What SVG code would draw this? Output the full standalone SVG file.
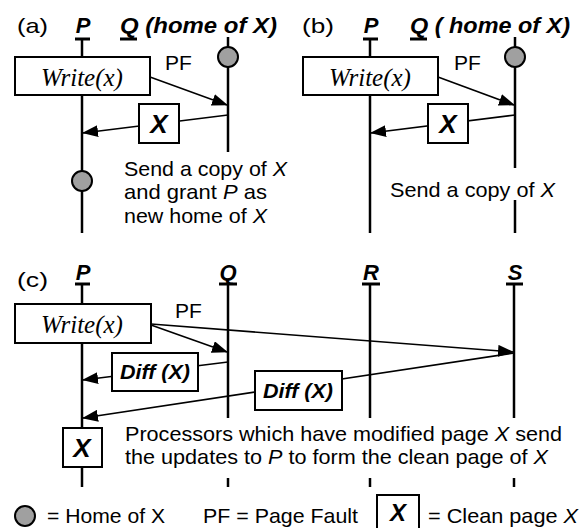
<svg xmlns="http://www.w3.org/2000/svg" width="587" height="528" viewBox="0 0 587 528">
<style>
.t{font-family:"Liberation Sans",Arial,sans-serif;font-size:21px;fill:#000}
.bi{font-family:"Liberation Sans",Arial,sans-serif;font-weight:bold;font-style:italic;fill:#000}
.w{font-family:"Liberation Serif","Times New Roman",serif;font-style:italic;font-size:25px;fill:#000}
.it{font-style:italic}
.life{stroke:#000;stroke-width:2.5;fill:none}
.ul{stroke:#000;stroke-width:3}
.box{fill:#fff;stroke:#000;stroke-width:2}
.msg{stroke:#000;stroke-width:1.6;fill:none}
.home{fill:#a0a0a0;stroke:#000;stroke-width:2}
</style>
<defs>
<marker id="ah" markerUnits="userSpaceOnUse" markerWidth="16" markerHeight="12" refX="15" refY="6" orient="auto">
<path d="M0,0 L16,6 L0,12 z" fill="#000"/>
</marker>
</defs>

<!-- Panel (a) -->
<text class="t" x="17" y="33" font-size="25" textLength="31" lengthAdjust="spacingAndGlyphs">(a)</text>
<g id="a-P">
<text class="bi" x="83" y="33" font-size="22" text-anchor="middle">P</text>
<line class="ul" x1="75" y1="39" x2="90" y2="39"/>
<line class="life" x1="82" y1="39" x2="82" y2="233"/>
<circle class="home" cx="82" cy="181" r="10"/>
</g>
<g id="a-Q">
<text class="bi" x="120" y="33" font-size="22" textLength="157" lengthAdjust="spacingAndGlyphs">Q (home of X)</text>
<line class="ul" x1="120" y1="39" x2="137" y2="39"/>
<line class="life" x1="228" y1="37" x2="228" y2="152"/>
<circle class="home" cx="228" cy="57" r="10"/>
</g>

<!-- Panel (b) -->
<text class="t" x="302" y="33" font-size="25" textLength="32" lengthAdjust="spacingAndGlyphs">(b)</text>
<g id="b-P">
<text class="bi" x="371" y="33" font-size="22" text-anchor="middle">P</text>
<line class="ul" x1="363" y1="39" x2="378" y2="39"/>
<line class="life" x1="370" y1="39" x2="370" y2="233"/>
</g>
<g id="b-Q">
<text class="bi" x="410" y="33" font-size="22" textLength="160" lengthAdjust="spacingAndGlyphs">Q ( home of X)</text>
<line class="ul" x1="410" y1="39" x2="427" y2="39"/>
<line class="life" x1="515" y1="37" x2="515" y2="168"/>
<line class="life" x1="515" y1="200" x2="515" y2="233"/>
<circle class="home" cx="515" cy="57" r="10"/>
</g>

<!-- Panel (c) -->
<text class="t" x="17" y="287" font-size="25" textLength="31" lengthAdjust="spacingAndGlyphs">(c)</text>
<g id="c-P">
<text class="bi" x="83" y="280" font-size="22" text-anchor="middle">P</text>
<line class="ul" x1="75" y1="284" x2="90" y2="284"/>
<line class="life" x1="82" y1="284" x2="82" y2="428"/>
<line class="life" x1="82" y1="467" x2="82" y2="487"/>
</g>
<g id="c-Q">
<text class="bi" x="228" y="280" font-size="22" text-anchor="middle">Q</text>
<line class="ul" x1="219" y1="284" x2="237" y2="284"/>
<line class="life" x1="228" y1="284" x2="228" y2="418"/>
<line class="life" x1="228" y1="478" x2="228" y2="487"/>
</g>
<g id="c-R">
<text class="bi" x="371" y="280" font-size="22" text-anchor="middle">R</text>
<line class="ul" x1="362" y1="284" x2="380" y2="284"/>
<line class="life" x1="370" y1="284" x2="370" y2="418"/>
<line class="life" x1="370" y1="478" x2="370" y2="487"/>
</g>
<g id="c-S">
<text class="bi" x="515" y="280" font-size="22" text-anchor="middle">S</text>
<line class="ul" x1="506" y1="284" x2="523" y2="284"/>
<line class="life" x1="514" y1="284" x2="514" y2="418"/>
<line class="life" x1="514" y1="478" x2="514" y2="487"/>
</g>

<!-- Connectors -->
<g id="connectors">
<line class="msg" x1="150" y1="77" x2="227" y2="105" marker-end="url(#ah)"/>
<line class="msg" x1="228" y1="115" x2="83" y2="133" marker-end="url(#ah)"/>
<line class="msg" x1="438" y1="77" x2="514" y2="105" marker-end="url(#ah)"/>
<line class="msg" x1="515" y1="115" x2="371" y2="133" marker-end="url(#ah)"/>
<line class="msg" x1="151" y1="325" x2="227" y2="352" marker-end="url(#ah)"/>
<line class="msg" x1="151" y1="324" x2="513" y2="352" marker-end="url(#ah)"/>
<line class="msg" x1="228" y1="362" x2="83" y2="380" marker-end="url(#ah)"/>
<line class="msg" x1="514" y1="353" x2="83" y2="418" marker-end="url(#ah)"/>
</g>

<!-- Nodes -->
<g id="a-write">
<rect class="box" x="15" y="57" width="135" height="38"/>
<text class="w" x="82" y="86" text-anchor="middle">Write(x)</text>
</g>
<g id="a-X">
<rect class="box" x="139" y="104" width="40" height="39"/>
<text class="bi" x="159" y="133" font-size="26" text-anchor="middle">X</text>
</g>
<g id="b-write">
<rect class="box" x="303" y="57" width="135" height="38"/>
<text class="w" x="370" y="86" text-anchor="middle">Write(x)</text>
</g>
<g id="b-X">
<rect class="box" x="428" y="104" width="40" height="39"/>
<text class="bi" x="448" y="133" font-size="26" text-anchor="middle">X</text>
</g>
<g id="c-write">
<rect class="box" x="15" y="304" width="136" height="39"/>
<text class="w" x="82" y="333" text-anchor="middle">Write(x)</text>
</g>
<g id="c-diff1">
<rect class="box" x="112" y="353" width="86" height="38"/>
<text class="bi" x="155" y="379" font-size="21" text-anchor="middle" textLength="70" lengthAdjust="spacingAndGlyphs">Diff (X)</text>
</g>
<g id="c-diff2">
<rect class="box" x="255" y="371" width="87" height="39"/>
<text class="bi" x="298" y="398" font-size="21" text-anchor="middle" textLength="70" lengthAdjust="spacingAndGlyphs">Diff (X)</text>
</g>
<g id="c-X">
<rect class="box" x="63" y="428" width="39" height="39"/>
<text class="bi" x="82" y="457" font-size="26" text-anchor="middle">X</text>
</g>

<!-- Labels -->
<text class="t" x="165" y="70">PF</text>
<text class="t" x="454" y="70">PF</text>
<text class="t" x="175" y="318">PF</text>
<text class="t" x="124" y="176" textLength="163" lengthAdjust="spacingAndGlyphs">Send a copy of <tspan class="it">X</tspan></text>
<text class="t" x="124" y="199" textLength="143" lengthAdjust="spacingAndGlyphs">and grant <tspan class="it">P</tspan>  as</text>
<text class="t" x="124" y="223" textLength="143" lengthAdjust="spacingAndGlyphs">new home of <tspan class="it">X</tspan></text>
<text class="t" x="390" y="197" textLength="165" lengthAdjust="spacingAndGlyphs">Send a copy of <tspan class="it">X</tspan></text>
<text class="t" x="125" y="441" textLength="437" lengthAdjust="spacingAndGlyphs">Processors which have modified page <tspan class="it">X</tspan>  send</text>
<text class="t" x="125" y="464" textLength="423" lengthAdjust="spacingAndGlyphs">the updates to <tspan class="it">P</tspan>  to form the clean page of <tspan class="it">X</tspan></text>

<!-- Legend -->
<g id="legend-home">
<circle class="home" cx="25" cy="516" r="10"/>
<text class="t" x="47" y="523" textLength="118" lengthAdjust="spacingAndGlyphs">= Home of X</text>
</g>
<text class="t" x="203" y="523" textLength="155" lengthAdjust="spacingAndGlyphs">PF = Page Fault</text>
<g id="legend-clean">
<rect class="box" x="377" y="495" width="42" height="40"/>
<text class="bi" x="398" y="521" font-size="24" text-anchor="middle">X</text>
<text class="t" x="428" y="523" textLength="150" lengthAdjust="spacingAndGlyphs">= Clean page <tspan class="it">X</tspan></text>
</g>
</svg>
